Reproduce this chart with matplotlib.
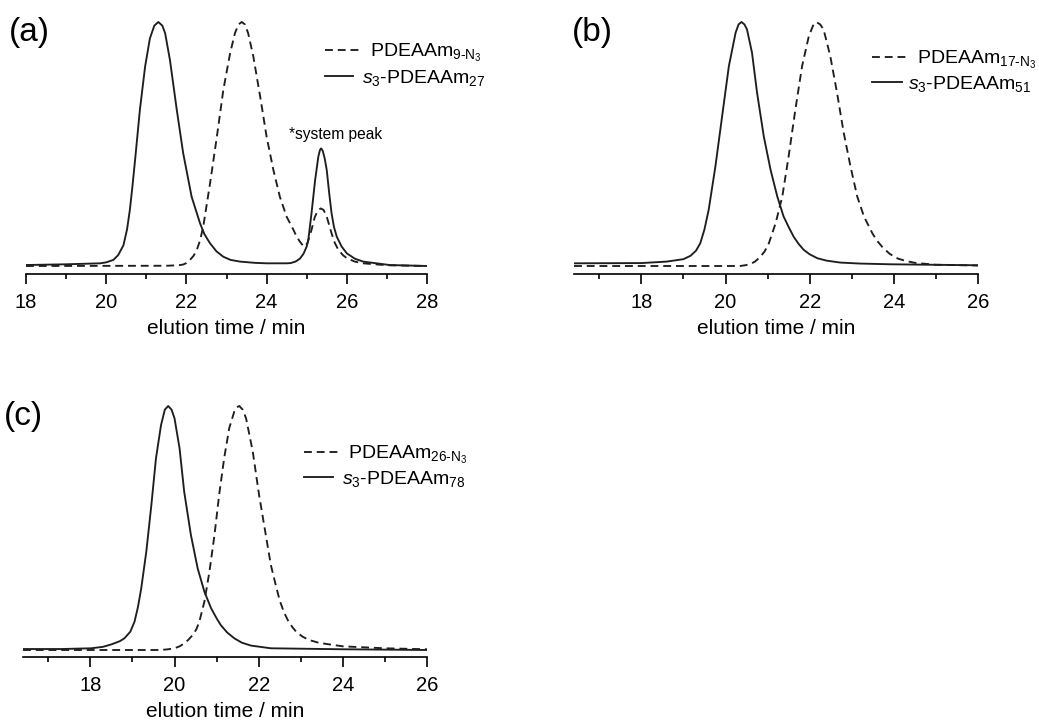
import matplotlib
matplotlib.use("Agg")
import matplotlib.pyplot as plt
from matplotlib.lines import Line2D
from matplotlib.ticker import MultipleLocator

plt.rcParams['font.family'] = ['Liberation Sans', 'DejaVu Sans']
plt.rcParams['mathtext.fontset'] = 'custom'
plt.rcParams['mathtext.rm'] = 'Liberation Sans'
plt.rcParams['mathtext.it'] = 'Liberation Sans:italic'
plt.rcParams['mathtext.bf'] = 'Liberation Sans:bold'

# ---- SEC traces (normalised RI signal vs elution time / min) ----
# (a) PDEAAm9-N3 precursor and three-arm star s3-PDEAAm27
a_star_t = [18.0, 19.0, 19.85, 20.0, 20.18, 20.3, 20.43, 20.52, 20.59, 20.65, 20.72, 20.84,
            20.97, 21.09, 21.2, 21.30, 21.4, 21.47, 21.59, 21.76, 21.92, 22.13, 22.34, 22.45,
            22.59, 22.75, 22.92, 23.1, 23.34, 23.7, 24.0, 24.5, 24.6, 24.72, 24.83, 24.92,
            25.0, 25.04, 25.12, 25.21, 25.29, 25.33, 25.36, 25.40, 25.45, 25.50, 25.56, 25.62,
            25.68, 25.75, 25.87, 26.0, 26.2, 26.41, 27.07, 28.0]
a_star_i = [0.004, 0.007, 0.011, 0.015, 0.025, 0.045, 0.085, 0.15, 0.23, 0.32, 0.434, 0.64,
            0.817, 0.933, 0.985, 1.0, 0.985, 0.954, 0.844, 0.64, 0.462, 0.284, 0.175, 0.13,
            0.093, 0.06, 0.038, 0.025, 0.018, 0.013, 0.011, 0.011, 0.012, 0.018, 0.03, 0.05,
            0.08, 0.107, 0.216, 0.352, 0.448, 0.475, 0.482, 0.472, 0.44, 0.393, 0.3, 0.216,
            0.16, 0.12, 0.08, 0.052, 0.03, 0.018, 0.004, 0.0]
a_arm_t = [18.0, 21.5, 21.8, 21.92, 22.0, 22.09, 22.18, 22.26, 22.34, 22.42, 22.59, 22.76,
           22.92, 23.09, 23.21, 23.30, 23.38, 23.46, 23.54, 23.67, 23.84, 24.0, 24.17, 24.33,
           24.5, 24.67, 24.75, 24.83, 24.9, 24.96, 25.02, 25.12, 25.2, 25.28, 25.35, 25.42,
           25.5, 25.62, 25.7, 25.79, 25.9, 26.0, 26.2, 26.41, 27.0, 28.0]
a_arm_i = [0.0, 0.001, 0.003, 0.006, 0.012, 0.025, 0.042, 0.066, 0.105, 0.161, 0.339, 0.53,
           0.721, 0.872, 0.954, 0.99, 1.0, 0.99, 0.954, 0.858, 0.694, 0.53, 0.393, 0.284,
           0.202, 0.148, 0.12, 0.1, 0.085, 0.08, 0.095, 0.148, 0.2, 0.228, 0.236, 0.23,
           0.202, 0.134, 0.095, 0.066, 0.045, 0.032, 0.018, 0.011, 0.003, 0.0]

# (b) PDEAAm17-N3 precursor and s3-PDEAAm51
b_star_t = [16.4, 18.0, 18.6, 19.0, 19.17, 19.3, 19.40, 19.5, 19.60, 19.76, 19.92, 20.08,
            20.24, 20.31, 20.38, 20.45, 20.51, 20.63, 20.75, 20.91, 21.07, 21.23, 21.38, 21.5,
            21.62, 21.74, 21.86, 22.0, 22.18, 22.4, 22.73, 23.2, 23.92, 26.0]
b_star_i = [0.011, 0.012, 0.018, 0.028, 0.042, 0.063, 0.093, 0.15, 0.23, 0.408, 0.614, 0.819,
            0.956, 0.99, 1.0, 0.99, 0.97, 0.874, 0.71, 0.531, 0.395, 0.285, 0.203, 0.16,
            0.12, 0.09, 0.066, 0.048, 0.032, 0.022, 0.014, 0.01, 0.007, 0.003]
b_arm_t = [16.4, 20.35, 20.5, 20.59, 20.7, 20.83, 20.93, 21.03, 21.19, 21.35, 21.50, 21.66,
           21.82, 21.98, 22.08, 22.16, 22.25, 22.33, 22.49, 22.65, 22.81, 22.97, 23.13, 23.29,
           23.49, 23.6, 23.72, 23.9, 24.1, 24.3, 24.5, 25.0, 26.0]
b_arm_i = [0.0, 0.0, 0.004, 0.008, 0.018, 0.038, 0.06, 0.093, 0.175, 0.285, 0.449, 0.641,
           0.819, 0.942, 0.985, 1.0, 0.99, 0.97, 0.86, 0.71, 0.545, 0.408, 0.285, 0.203,
           0.134, 0.104, 0.079, 0.05, 0.03, 0.02, 0.013, 0.005, 0.002]

# (c) PDEAAm26-N3 precursor and s3-PDEAAm78
c_star_t = [16.4, 17.31, 18.02, 18.3, 18.5, 18.7, 18.81, 18.95, 19.05, 19.13, 19.21, 19.33,
            19.45, 19.56, 19.68, 19.77, 19.85, 19.93, 20.0, 20.12, 20.23, 20.39, 20.55, 20.71,
            20.87, 21.0, 21.1, 21.25, 21.42, 21.6, 21.82, 22.29, 24.0, 26.0]
c_star_i = [0.004, 0.004, 0.007, 0.013, 0.023, 0.036, 0.048, 0.075, 0.116, 0.175, 0.253, 0.403,
            0.594, 0.786, 0.922, 0.985, 1.0, 0.985, 0.95, 0.827, 0.649, 0.471, 0.335, 0.239,
            0.171, 0.13, 0.102, 0.072, 0.048, 0.03, 0.018, 0.007, 0.003, 0.0]
c_arm_t = [16.4, 19.68, 19.85, 20.0, 20.12, 20.23, 20.33, 20.43, 20.52, 20.59, 20.71, 20.83,
           20.95, 21.06, 21.18, 21.30, 21.42, 21.48, 21.54, 21.62, 21.70, 21.86, 22.01, 22.17,
           22.29, 22.4, 22.5, 22.6, 22.7, 22.8, 22.9, 23.05, 23.2, 23.4, 23.6, 24.0, 25.0, 26.0]
c_arm_i = [0.0, 0.0, 0.003, 0.007, 0.015, 0.027, 0.042, 0.061, 0.085, 0.116, 0.198, 0.321,
           0.471, 0.635, 0.786, 0.909, 0.977, 0.995, 1.0, 0.985, 0.95, 0.813, 0.635, 0.471,
           0.348, 0.27, 0.203, 0.155, 0.12, 0.094, 0.073, 0.054, 0.041, 0.031, 0.025, 0.015,
           0.007, 0.003]

arm_labels = [r'PDEAAm$_{9\text{-}\mathrm{N}_3}$',
              r'PDEAAm$_{17\text{-}\mathrm{N}_3}$',
              r'PDEAAm$_{26\text{-}\mathrm{N}_3}$']
star_labels = [r'$\mathit{s}_3$-PDEAAm$_{27}$',
               r'$\mathit{s}_3$-PDEAAm$_{51}$',
               r'$\mathit{s}_3$-PDEAAm$_{78}$']
panel_tags = ['(a)', '(b)', '(c)']
x_ranges = [(18, 28), (16.4, 26), (16.4, 26)]
x_label = 'elution time / min'

W, H = 1039, 727
fig = plt.figure(figsize=(W / 100, H / 100), dpi=100)
fig.patch.set_facecolor('white')

LINE = '#1e1e1e'
LW = 1.35
DASH = (4.2, 2.6)


def fx(px):
    return px / W


def fy(py):
    return 1 - py / H


def px_axes(left, right, top, bottom):
    return fig.add_axes([fx(left), fy(bottom), (right - left) / W, (bottom - top) / H])


# (left, right, top, bottom) of each plotting box in pixels, plus the y range
boxes = [(26, 427, 14, 274, (-8 / 244, 1 + 8 / 244)),
         (574, 978, 14, 274, (-8 / 244, 1 + 8 / 244)),
         (23, 427, 397, 657, (-7 / 244, 1 + 9 / 244))]
traces = [(a_arm_t, a_arm_i, a_star_t, a_star_i),
          (b_arm_t, b_arm_i, b_star_t, b_star_i),
          (c_arm_t, c_arm_i, c_star_t, c_star_i)]
# key layout per panel: (dashed x0, x1, text x, y), (solid x0, x1, text x, y)
keys = [((325, 359, 370, 50), (325, 353, 362, 76)),
        ((872, 907, 917, 57), (872, 902, 908, 82)),
        ((304, 340, 348, 452), (304, 333, 342, 477))]
tag_pos = [(9, 32), (572, 32), (4, 417)]
KEY_FS = 14

for k in range(3):
    l, r, t, b, yl = boxes[k]
    ax = px_axes(l, r, t, b)
    at, ai, st, si = traces[k]
    ax.plot(at, ai, color=LINE, lw=LW, dashes=DASH)
    ax.plot(st, si, color=LINE, lw=LW)
    ax.set_xlim(*x_ranges[k])
    ax.set_ylim(*yl)
    for s in ('left', 'right', 'top'):
        ax.spines[s].set_visible(False)
    ax.spines['bottom'].set_linewidth(1.2)
    ax.set_yticks([])
    ax.xaxis.set_major_locator(MultipleLocator(2))
    ax.xaxis.set_minor_locator(MultipleLocator(1))
    ax.tick_params(axis='x', which='major', direction='out', length=7.2, width=1.2,
                   labelsize=14.5, pad=6.5)
    ax.tick_params(axis='x', which='minor', direction='out', length=3.8, width=1.2)
    ax.set_xlabel(x_label, fontsize=15, labelpad=5)
    ax.patch.set_alpha(0)

    # key: line sample + label for each trace
    (d0, d1, dtx, dy), (s0, s1, stx, sy) = keys[k]
    fig.add_artist(Line2D([fx(d0), fx(d1)], [fy(dy), fy(dy)], color=LINE, lw=LW,
                          dashes=DASH, transform=fig.transFigure))
    fig.add_artist(Line2D([fx(s0), fx(s1)], [fy(sy), fy(sy)], color=LINE, lw=LW,
                          transform=fig.transFigure))
    fig.text(fx(dtx), fy(dy + 7), arm_labels[k], fontsize=KEY_FS, ha='left', va='baseline')
    fig.text(fx(stx), fy(sy + 7), star_labels[k], fontsize=KEY_FS, ha='left', va='baseline')

    tx, ty = tag_pos[k]
    fig.text(fx(tx), fy(ty), panel_tags[k], fontsize=24, va='center', ha='left')

    if k == 0:
        ax.text(25.73, 0.537, '*system peak', fontsize=11.2, ha='center', va='center')

fig.savefig('out.png', dpi=100, facecolor='white')
